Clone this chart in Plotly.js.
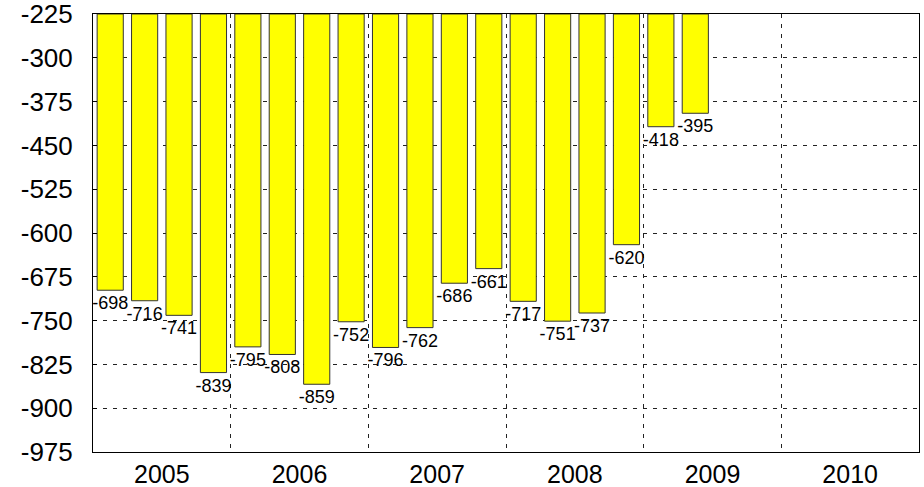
<!DOCTYPE html>
<html>
<head>
<meta charset="utf-8">
<script src="https://cdn.plot.ly/plotly-3.0.1.min.js"></script>
<style>html,body{margin:0;padding:0;background:#fff;}#chart{width:924px;height:487px;}</style>
</head>
<body>
<div id="chart"></div>
<script>
// Quarterly values, 2005 Q1 .. 2009 Q2
const quarters = ["2005 Q1","2005 Q2","2005 Q3","2005 Q4",
                  "2006 Q1","2006 Q2","2006 Q3","2006 Q4",
                  "2007 Q1","2007 Q2","2007 Q3","2007 Q4",
                  "2008 Q1","2008 Q2","2008 Q3","2008 Q4",
                  "2009 Q1","2009 Q2"];
const values = [-698,-716,-741,-839,-795,-808,-859,-752,-796,-762,-686,-661,-717,-751,-737,-620,-418,-395];
const years = ["2005","2006","2007","2008","2009","2010"];
const yTicks = [-225,-300,-375,-450,-525,-600,-675,-750,-825,-900,-975];

const axisTop = yTicks[0];
const axisBottom = yTicks[yTicks.length-1];
const xPos = quarters.map((q,i)=>i);
const yearCenters = years.map((y,i)=>i*4+1.5);
const yearBounds = years.slice(1).map((y,i)=>(i+1)*4-0.5);

const trace = {
  type:'bar',
  x:xPos,
  y:values.map(v=>v-axisTop),
  base:axisTop,
  width:0.76,
  marker:{color:'#ffff00', line:{color:'#333333', width:1}},
  text:values.map(String),
  textposition:'outside',
  textfont:{family:'Liberation Sans, Arial, sans-serif', size:18, color:'#000'},
  constraintext:'none',
  cliponaxis:false,
  hoverinfo:'skip'
};

const layout = {
  width:924, height:487,
  margin:{l:93, r:5, t:14, b:35},
  paper_bgcolor:'#fff', plot_bgcolor:'#fff',
  showlegend:false,
  bargap:0,
  font:{family:'Liberation Sans, Arial, sans-serif', color:'#000'},
  xaxis:{
    range:[-0.5, years.length*4-0.5],
    tickvals:yearCenters, ticktext:years,
    ticks:'', showgrid:false, zeroline:false,
    tickfont:{size:25},
    ticklabeloverflow:'allow',
    showline:true, linecolor:'#000', linewidth:1, mirror:true,
    minor:{tickvals:yearBounds, showgrid:true, gridcolor:'#222', griddash:'4px,6px', gridwidth:1, ticks:''}
  },
  yaxis:{
    range:[axisBottom, axisTop],
    tickvals:yTicks, ticktext:yTicks.map(String),
    ticks:'inside', ticklen:4, tickcolor:'#000',
    tickfont:{size:26},
    ticklabelstandoff:14,
    ticklabeloverflow:'allow',
    showgrid:true, gridcolor:'#222', griddash:'4px,6px', gridwidth:1,
    zeroline:false,
    showline:true, linecolor:'#000', linewidth:1, mirror:true
  }
};

Plotly.newPlot('chart',[trace],layout,{staticPlot:true, displayModeBar:false});
</script>
</body>
</html>
